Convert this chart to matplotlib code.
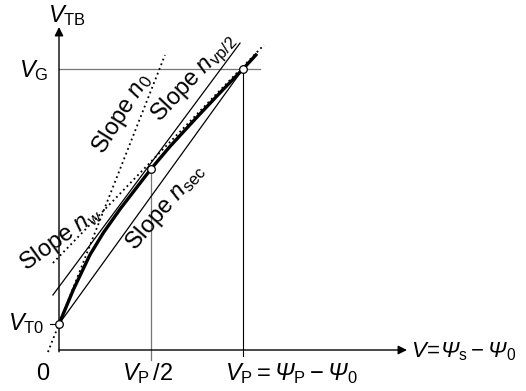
import matplotlib
matplotlib.use("Agg")
import matplotlib.pyplot as plt

# --- font setup ---
plt.rcParams['font.family'] = ['Liberation Sans', 'DejaVu Sans']
plt.rcParams['mathtext.fontset'] = 'custom'
plt.rcParams['mathtext.rm'] = 'Liberation Sans'
plt.rcParams['mathtext.it'] = 'Liberation Sans:italic'
# sf is only used for the italic capital Psi
plt.rcParams['mathtext.sf'] = 'Liberation Sans:italic'

# --- values (units: V_P = 1) ---
V_P = 1.0
V_T0 = 0.141
V_G = 1.527

# V_TB(V) curve
curve_v = [0.0, 0.078, 0.168, 0.241, 0.332, 0.422, 0.5, 0.603, 0.739, 0.875, 1.0, 1.076]
curve_vtb = [0.141, 0.328, 0.517, 0.637, 0.766, 0.883, 0.984, 1.106, 1.254, 1.398, 1.527, 1.610]

# marked points
pts_v = [0.0, 0.5, 1.0]
pts_vtb = [0.141, 0.984, 1.527]

# straight slope lines (end points)
n0_v, n0_y = [-0.060, 0.576], [-0.011, 1.603]
nw_v, nw_y = [-0.033, 1.114], [0.473, 1.658]
nvp_v, nvp_y = [-0.033, 0.984], [0.299, 1.668]
nsec_v, nsec_y = [0.0, 1.0], [0.141, 1.527]

FS = 17
PX = 184.0  # pixels per unit

fig = plt.figure(figsize=(5.26, 3.91), dpi=100)
ax = fig.add_axes([0, 0, 1, 1])
ax.set_xlim(-59 / PX, (526 - 59) / PX)
ax.set_ylim((350 - 391) / PX, 350 / PX)
ax.axis('off')

# axes with arrows
ax.annotate('', xy=(0, (350 - 27) / PX), xytext=(0, -0.01),
            arrowprops=dict(arrowstyle='-|>', lw=1.0, color='black',
                            mutation_scale=13, shrinkA=0, shrinkB=0))
ax.annotate('', xy=((407 - 59) / PX, 0), xytext=(0, 0),
            arrowprops=dict(arrowstyle='-|>', lw=1.0, color='black',
                            mutation_scale=13, shrinkA=0, shrinkB=0))

# guide lines
ax.plot([0, 1.092], [V_G, V_G], color='#777777', lw=0.9)
ax.plot([V_P / 2, V_P / 2], [-0.054, pts_vtb[1]], color='#777777', lw=0.9)
ax.plot([V_P, V_P], [-0.033, V_G], color='black', lw=0.8)
ax.plot([-0.049, 0], [V_T0, V_T0], color='black', lw=0.8)

# slope lines
ax.plot(n0_v, n0_y, color='black', lw=1.3, ls=(0, (1, 1.8)))
ax.plot(nw_v, nw_y, color='black', lw=1.3, ls=(0, (1, 1.8)))
ax.plot(nvp_v, nvp_y, color='black', lw=0.9)
ax.plot(nsec_v, nsec_y, color='black', lw=0.9)

# curve
ax.plot(curve_v, curve_vtb, color='black', lw=2.4, solid_capstyle='butt',
        solid_joinstyle='round')

# points
ax.plot(pts_v, pts_vtb, 'o', ms=5.5, mfc='white', mec='black', mew=0.9, zorder=5)

# labels
PSI = r'\mathsf{Ψ}'
ax.text(-0.060, 1.783, r'$V_{\mathrm{TB}}$', fontsize=FS, ha='left', va='baseline')
ax.text(-0.060, 1.484, r'$V_{\mathrm{G}}$', fontsize=FS, ha='right', va='baseline')
ax.text(-0.082, 0.109, r'$V_{\mathrm{T0}}$', fontsize=FS, ha='right', va='baseline')
ax.text(-0.087, -0.163, '0', fontsize=FS, ha='center', va='baseline')
ax.text(0.345, -0.163, r'$V_{\mathrm{P}}\,/2$', fontsize=FS, ha='left', va='baseline')
ax.text(0.900, -0.163, r'$V_{\mathrm{P}} = ' + PSI + r'_{\mathrm{P}} - ' + PSI + r'_0$',
        fontsize=FS, ha='left', va='baseline')
ax.text(1.913, -0.038, r'$V\! =\! ' + PSI + r'_{\mathrm{s}} - ' + PSI + r'_0$',
        fontsize=16, ha='left', va='baseline')

ax.text(0.342, 1.283, r'Slope $n_0$', fontsize=FS, rotation=58,
        ha='center', va='center', rotation_mode='anchor')
ax.text(0.734, 1.475, r'Slope $n_{\mathrm{vp/2}}$', fontsize=FS, rotation=47,
        ha='center', va='center', rotation_mode='anchor')
ax.text(0.576, 0.777, r'Slope $n_{\mathrm{sec}}$', fontsize=FS, rotation=49,
        ha='center', va='center', rotation_mode='anchor')
ax.text(0.010, 0.606, r'Slope $n_{\mathrm{w}}$', fontsize=FS, rotation=36,
        ha='center', va='center', rotation_mode='anchor')

fig.savefig('out.png', dpi=100)
